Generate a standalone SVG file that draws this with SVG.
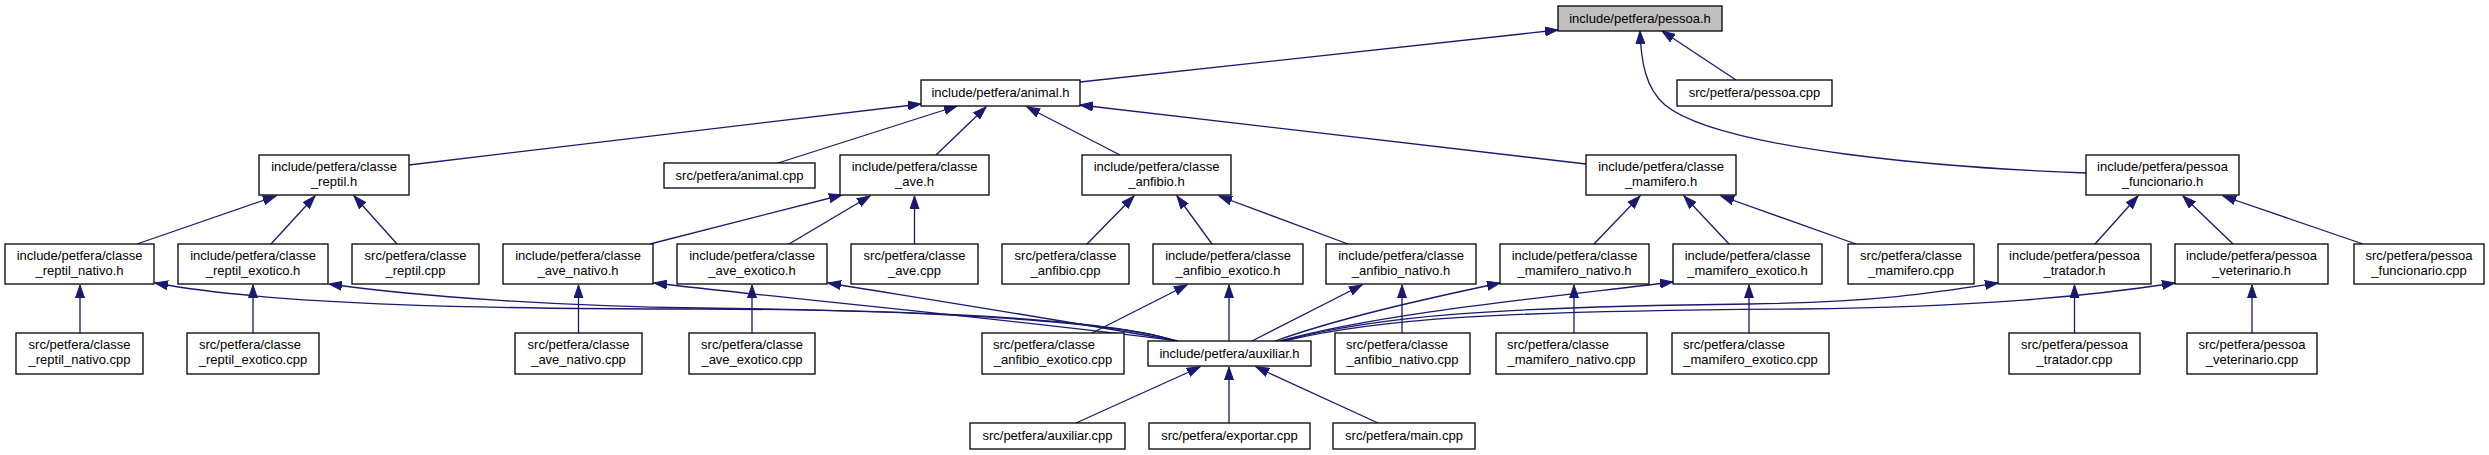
<svg xmlns="http://www.w3.org/2000/svg" width="2489" height="455" viewBox="0 0 2489 455">
<style>
.n rect{fill:#fff;stroke:#000;stroke-width:1.3}
.root rect{fill:#bfbfbf}
text{font-family:"Liberation Sans",Arial,sans-serif;font-size:13px;fill:#000;text-anchor:middle}
text.l{text-anchor:start}
#edges path{fill:none;stroke:#191970;stroke-width:1.3;marker-end:url(#ah)}
</style>
<defs>
<marker id="ah" viewBox="0 0 14 10" refX="13" refY="5" markerWidth="14" markerHeight="10" markerUnits="userSpaceOnUse" orient="auto">
<path d="M0,0.5 L13,5 L0,9.5 z" fill="#191970" stroke="#191970" stroke-width="1"/>
</marker>
</defs>
<rect width="2489" height="455" fill="#fff"/>
<g id="edges">
<path d="M1080,82 L1558,30"/>
<path d="M1736,80 L1662,31"/>
<path d="M2086,173 C1950,168 1720,150 1665,105 C1645,88 1641,60 1640,31"/>
<path d="M409,165 L921,104"/>
<path d="M778,163 L957,106"/>
<path d="M936,155 L986,107"/>
<path d="M1120,155 L1027,107"/>
<path d="M1586,164 L1080,105"/>
<path d="M137,244 L276,196"/>
<path d="M271,244 L315,196"/>
<path d="M397,244 L354,196"/>
<path d="M650,244 L842,195"/>
<path d="M789,244 L870,196"/>
<path d="M914.5,244 L914.5,196"/>
<path d="M1087,244 L1134,196"/>
<path d="M1212,244 L1177,196"/>
<path d="M1348,244 L1219,196"/>
<path d="M1594,244 L1640,196"/>
<path d="M1729,244 L1684,196"/>
<path d="M1856,244 L1721,196"/>
<path d="M2095,244 L2138,196"/>
<path d="M2233,244 L2183,196"/>
<path d="M2363,244 L2223,196"/>
<path d="M80,333 L80,285"/>
<path d="M253,333 L253,285"/>
<path d="M578.5,333 L578.5,285"/>
<path d="M752,333 L752,285"/>
<path d="M1092,333 L1187,285"/>
<path d="M1402,333 L1402,285"/>
<path d="M1574,333 L1574,285"/>
<path d="M1749,333 L1749,285"/>
<path d="M2074.5,333 L2074.5,285"/>
<path d="M2252,333 L2252,285"/>
<path d="M1176,341 C1120,322 960,310 700,309 C500,309 280,306 155,283"/>
<path d="M1176,341 C1120,323 960,311 700,308 C560,306 420,297 329,284"/>
<path d="M1178,341 C1000,318 780,298 654,283"/>
<path d="M1178,341 C1060,320 920,298 828,283"/>
<path d="M1229,341 L1229,285"/>
<path d="M1252,341 L1362,285"/>
<path d="M1275,341 C1340,318 1420,300 1500,283"/>
<path d="M1280,341 C1380,313 1550,297 1673,282"/>
<path d="M1282,341 C1380,315 1500,307 1750,304 C1880,302 1940,292 1998,283"/>
<path d="M1284,341 C1380,318 1500,311 1800,309 C1980,307 2090,296 2175,283"/>
<path d="M1076,423 L1200,367"/>
<path d="M1229,423 L1229,367"/>
<path d="M1378,423 L1256,367"/>
</g>
<g id="pessoa_h" class="n root"><rect x="1558" y="6" width="164" height="25"/><text x="1640" y="23">include/petfera/pessoa.h</text></g>
<g id="animal_h" class="n"><rect x="921" y="80" width="159" height="26"/><text x="1000.5" y="97">include/petfera/animal.h</text></g>
<g id="pessoa_cpp" class="n"><rect x="1677" y="80" width="155" height="26"/><text x="1754.5" y="97">src/petfera/pessoa.cpp</text></g>
<g id="classe_reptil_h" class="n"><rect x="259" y="155" width="150" height="40"/><text x="334" y="171">include/petfera/classe</text><text x="334" y="185.5">_reptil.h</text></g>
<g id="animal_cpp" class="n"><rect x="664" y="163" width="151" height="25"/><text x="739.5" y="180">src/petfera/animal.cpp</text></g>
<g id="classe_ave_h" class="n"><rect x="840" y="155" width="149" height="40"/><text x="914.5" y="171">include/petfera/classe</text><text x="914.5" y="185.5">_ave.h</text></g>
<g id="classe_anfibio_h" class="n"><rect x="1082" y="155" width="149" height="40"/><text x="1156.5" y="171">include/petfera/classe</text><text x="1156.5" y="185.5">_anfibio.h</text></g>
<g id="classe_mamifero_h" class="n"><rect x="1586" y="155" width="150" height="40"/><text x="1661" y="171">include/petfera/classe</text><text x="1661" y="185.5">_mamifero.h</text></g>
<g id="pessoa_funcionario_h" class="n"><rect x="2086" y="155" width="153" height="40"/><text x="2162.5" y="171">include/petfera/pessoa</text><text x="2162.5" y="185.5">_funcionario.h</text></g>
<g id="classe_reptil_nativo_h" class="n"><rect x="5" y="244" width="149" height="40"/><text x="79.5" y="260">include/petfera/classe</text><text x="79.5" y="274.5">_reptil_nativo.h</text></g>
<g id="classe_reptil_exotico_h" class="n"><rect x="178" y="244" width="150" height="40"/><text x="253" y="260">include/petfera/classe</text><text x="253" y="274.5">_reptil_exotico.h</text></g>
<g id="classe_reptil_cpp" class="n"><rect x="352" y="244" width="127" height="40"/><text x="415.5" y="260">src/petfera/classe</text><text x="415.5" y="274.5">_reptil.cpp</text></g>
<g id="classe_ave_nativo_h" class="n"><rect x="503" y="244" width="150" height="40"/><text x="578" y="260">include/petfera/classe</text><text x="578" y="274.5">_ave_nativo.h</text></g>
<g id="classe_ave_exotico_h" class="n"><rect x="677" y="244" width="150" height="40"/><text x="752" y="260">include/petfera/classe</text><text x="752" y="274.5">_ave_exotico.h</text></g>
<g id="classe_ave_cpp" class="n"><rect x="851" y="244" width="127" height="40"/><text x="914.5" y="260">src/petfera/classe</text><text x="914.5" y="274.5">_ave.cpp</text></g>
<g id="classe_anfibio_cpp" class="n"><rect x="1002" y="244" width="127" height="40"/><text x="1065.5" y="260">src/petfera/classe</text><text x="1065.5" y="274.5">_anfibio.cpp</text></g>
<g id="classe_anfibio_exotico_h" class="n"><rect x="1153" y="244" width="150" height="40"/><text x="1228" y="260">include/petfera/classe</text><text x="1228" y="274.5">_anfibio_exotico.h</text></g>
<g id="classe_anfibio_nativo_h" class="n"><rect x="1326" y="244" width="150" height="40"/><text x="1401" y="260">include/petfera/classe</text><text x="1401" y="274.5">_anfibio_nativo.h</text></g>
<g id="classe_mamifero_nativo_h" class="n"><rect x="1500" y="244" width="149" height="40"/><text x="1574.5" y="260">include/petfera/classe</text><text x="1574.5" y="274.5">_mamifero_nativo.h</text></g>
<g id="classe_mamifero_exotico_h" class="n"><rect x="1673" y="244" width="149" height="40"/><text x="1747.5" y="260">include/petfera/classe</text><text x="1747.5" y="274.5">_mamifero_exotico.h</text></g>
<g id="classe_mamifero_cpp" class="n"><rect x="1848" y="244" width="126" height="40"/><text x="1911" y="260">src/petfera/classe</text><text x="1911" y="274.5">_mamifero.cpp</text></g>
<g id="pessoa_tratador_h" class="n"><rect x="1998" y="244" width="153" height="40"/><text x="2074.5" y="260">include/petfera/pessoa</text><text x="2074.5" y="274.5">_tratador.h</text></g>
<g id="pessoa_veterinario_h" class="n"><rect x="2175" y="244" width="153" height="40"/><text x="2251.5" y="260">include/petfera/pessoa</text><text x="2251.5" y="274.5">_veterinario.h</text></g>
<g id="pessoa_funcionario_cpp" class="n"><rect x="2354" y="244" width="130" height="40"/><text x="2419" y="260">src/petfera/pessoa</text><text x="2419" y="274.5">_funcionario.cpp</text></g>
<g id="classe_reptil_nativo_cpp" class="n"><rect x="16" y="333" width="127" height="41"/><text x="79.5" y="349">src/petfera/classe</text><text x="79.5" y="363.5">_reptil_nativo.cpp</text></g>
<g id="classe_reptil_exotico_cpp" class="n"><rect x="187" y="333" width="132" height="41"/><text class="l" x="199" y="349">src/petfera/classe</text><text x="253" y="363.5">_reptil_exotico.cpp</text></g>
<g id="classe_ave_nativo_cpp" class="n"><rect x="515" y="333" width="127" height="41"/><text x="578.5" y="349">src/petfera/classe</text><text x="578.5" y="363.5">_ave_nativo.cpp</text></g>
<g id="classe_ave_exotico_cpp" class="n"><rect x="689" y="333" width="126" height="41"/><text x="752" y="349">src/petfera/classe</text><text x="752" y="363.5">_ave_exotico.cpp</text></g>
<g id="classe_anfibio_exotico_cpp" class="n"><rect x="982" y="333" width="142" height="41"/><text class="l" x="993" y="349">src/petfera/classe</text><text x="1053" y="363.5">_anfibio_exotico.cpp</text></g>
<g id="auxiliar_h" class="n"><rect x="1148" y="341" width="163" height="25"/><text x="1229.5" y="358">include/petfera/auxiliar.h</text></g>
<g id="classe_anfibio_nativo_cpp" class="n"><rect x="1335" y="333" width="135" height="41"/><text class="l" x="1346" y="349">src/petfera/classe</text><text x="1402.5" y="363.5">_anfibio_nativo.cpp</text></g>
<g id="classe_mamifero_nativo_cpp" class="n"><rect x="1496" y="333" width="151" height="41"/><text class="l" x="1507" y="349">src/petfera/classe</text><text x="1571.5" y="363.5">_mamifero_nativo.cpp</text></g>
<g id="classe_mamifero_exotico_cpp" class="n"><rect x="1672" y="333" width="157" height="41"/><text class="l" x="1683" y="349">src/petfera/classe</text><text x="1750.5" y="363.5">_mamifero_exotico.cpp</text></g>
<g id="pessoa_tratador_cpp" class="n"><rect x="2009" y="333" width="131" height="41"/><text x="2074.5" y="349">src/petfera/pessoa</text><text x="2074.5" y="363.5">_tratador.cpp</text></g>
<g id="pessoa_veterinario_cpp" class="n"><rect x="2187" y="333" width="130" height="41"/><text x="2252" y="349">src/petfera/pessoa</text><text x="2252" y="363.5">_veterinario.cpp</text></g>
<g id="auxiliar_cpp" class="n"><rect x="970" y="423" width="155" height="26"/><text x="1047.5" y="440">src/petfera/auxiliar.cpp</text></g>
<g id="exportar_cpp" class="n"><rect x="1149" y="423" width="161" height="26"/><text x="1229.5" y="440">src/petfera/exportar.cpp</text></g>
<g id="main_cpp" class="n"><rect x="1333" y="423" width="142" height="26"/><text x="1404" y="440">src/petfera/main.cpp</text></g>
</svg>
